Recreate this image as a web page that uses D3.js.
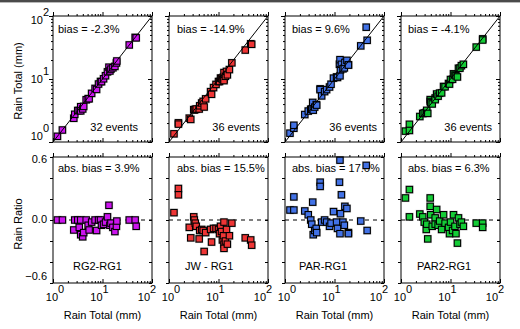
<!DOCTYPE html>
<html>
<head>
<meta charset="utf-8">
<script src="https://cdn.jsdelivr.net/npm/d3@7"></script>
<style>
  body { margin: 0; background: #fff; }
  svg text { font-family: "Liberation Sans", Arial, sans-serif; fill: #000; }
</style>
</head>
<body>
<div id="chart"></div>
<script>
// reference gauge (RG1) event totals in mm, and ratio of each gauge to RG1 minus one
const rg2Ref = [1.23,1.55,2.63,2.75,3.16,3.39,3.63,3.63,3.98,4.17,4.68,5.13,5.37,6.03,7.08,7.59,8.32,9.12,9.55,10.5,11.5,12.6,13.5,14.1,14.8,16.2,17.8,19.1,19.5,34.7,45.7,47.9];
const rg2Ratio = [0,0,-0.095,0,0,-0.07,0,-0.14,-0.16,-0.12,0,-0.05,-0.095,-0.02,0,-0.10,0,0,-0.05,-0.04,-0.02,0.03,0.14,-0.05,-0.03,-0.07,-0.11,-0.06,-0.01,0,0,-0.06];

const jwRef = [1.26,1.55,1.55,2.57,2.75,3.16,3.24,3.39,3.55,4.07,4.17,4.57,4.90,5.13,5.50,6.92,7.24,7.94,8.91,10.0,10.5,11.0,11.5,12.0,12.6,12.9,12.9,12.9,13.8,14.5,15.1,16.6,18.6,34.7,44.7,46.8];
const jwRatio = [0.07,0.30,0.24,-0.07,-0.17,0.03,0.00,-0.03,-0.06,-0.18,-0.10,-0.09,-0.10,-0.30,-0.12,-0.09,-0.21,-0.08,-0.08,-0.09,-0.13,-0.06,-0.11,-0.19,-0.15,-0.23,-0.27,-0.02,-0.20,-0.09,-0.23,-0.15,-0.03,-0.17,-0.19,-0.24];

const parRef = [1.26,1.51,1.51,2.51,2.95,3.31,3.47,3.63,3.72,3.98,4.27,4.37,5.13,5.13,5.50,6.31,6.92,7.94,8.51,9.55,11.0,11.5,12.6,12.9,12.9,13.2,13.8,14.8,15.8,16.2,17.8,19.1,19.1,33.9,43.7,45.7];
const parRatio = [0.095,0.095,0.22,0.086,0.05,0.0,-0.04,0.17,-0.14,-0.10,-0.08,-0.12,0.36,0.32,-0.02,0.0,-0.02,-0.06,-0.03,0.08,-0.02,-0.08,0.36,0.57,-0.13,0.06,0.24,-0.02,-0.05,0.13,0.11,-0.12,-0.13,-0.01,0.52,-0.10];

const par2Ref = [1.23,1.48,1.48,2.40,2.75,2.95,3.24,3.31,3.47,3.89,3.89,3.98,4.27,4.90,4.90,5.25,5.62,6.03,6.61,7.24,7.76,9.12,9.55,10.0,11.0,11.5,12.3,12.9,13.8,14.5,15.5,16.6,18.2,33.1,44.7,44.7];
const par2Ratio = [0.21,0.29,0.03,0.057,0.03,-0.02,-0.09,-0.04,-0.18,0.21,0.13,0.05,-0.06,0.02,-0.04,0.10,-0.05,-0.01,-0.09,0.05,-0.03,-0.07,-0.13,-0.02,-0.10,0.05,-0.06,-0.13,-0.22,0.02,-0.04,-0.02,-0.06,-0.03,-0.03,-0.07];

const pairLabels = ["RG2-RG1", "JW - RG1", "PAR-RG1", "PAR2-RG1"];
const biasLabels = ["bias = -2.3%", "bias = -14.9%", "bias = 9.6%", "bias = -4.1%"];
const absBiasLabels = ["abs. bias = 3.9%", "abs. bias = 15.5%", "abs. bias = 17.6%", "abs. bias = 6.3%"];
const eventLabels = ["32 events", "36 events", "36 events", "36 events"];
const colors = ["#cc14ee", "#ee3535", "#4272e6", "#14cc36"];

const refSets = [rg2Ref, jwRef, parRef, par2Ref];
const ratioSets = [rg2Ratio, jwRatio, parRatio, par2Ratio];

const logTicks = [1, 10, 100];
const ratioTicks = [-0.6, -0.4, -0.2, 0, 0.2, 0.4, 0.6];
const ratioLabels = [-0.6, 0, 0.6];

// layout
const W = 520, H = 329;
const panelLeft = [53, 169, 285, 401];
const pw = 99, ph = 126;
const topY = 16, botY = 157;
// per panel text offsets (from the left edge)
const eventRight = [85, 91, 92, 91];
const pairX = [20, 16, 14, 16];
const biasX = [5, 8, 7, 7];

const svg = d3.select("#chart").append("svg").attr("width", W).attr("height", H);

// window-like frame at the very top
svg.append("rect").attr("x", 0).attr("y", 0).attr("width", W).attr("height", 2).attr("fill", "#4a4a4a");
svg.append("rect").attr("x", 0).attr("y", 2).attr("width", W).attr("height", 1).attr("fill", "#b8b8b8");

/**
 * draws a set of inward ticks along one side of a panel
 */
function inTicks(g, axisFn, scale, values, size, transform) {
    g.append("g")
        .attr("transform", transform)
        .call(axisFn(scale).tickValues(values).tickSizeInner(-size).tickSizeOuter(0).tickFormat(""))
        .call(a => a.select(".domain").remove())
        .selectAll("line").attr("stroke", "#000").attr("stroke-width", 1);
}

const minorLog = d3.scaleLog().domain([1, 100]).ticks().filter(v => logTicks.indexOf(v) < 0);

/**
 * draws the square markers with their soft grey halo
 */
function squares(g, pts, x, y, color) {
    g.selectAll(".halo").data(pts).enter().append("rect").attr("class", "halo")
        .attr("x", d => x(d[0]) - 4.2).attr("y", d => y(d[1]) - 4.2)
        .attr("width", 8.4).attr("height", 8.4).attr("fill", "#999").attr("opacity", 0.45);
    g.selectAll(".sq").data(pts).enter().append("rect").attr("class", "sq")
        .attr("x", d => x(d[0]) - 3.2).attr("y", d => y(d[1]) - 3.2)
        .attr("width", 6.4).attr("height", 6.4).attr("fill", color)
        .attr("stroke", "#000").attr("stroke-width", 1.1);
}

/**
 * writes 10^n tick labels
 */
function powerLabel(g, x, y, exp, anchor) {
    let t = g.append("text").attr("x", x).attr("y", y).attr("text-anchor", anchor).attr("font-size", 11);
    t.append("tspan").text("10");
    t.append("tspan").attr("dy", -8).attr("font-size", 11).text(exp);
}

for (let p = 0; p < 4; p++) {
    let L = panelLeft[p];
    let color = colors[p];
    let ref = refSets[p];
    let ratio = ratioSets[p];

    ////////////////////////////////////////////////////////////////
    // top panel: gauge total vs reference total
    let x = d3.scaleLog().domain([1, 100]).range([L, L + pw]);
    let y = d3.scaleLog().domain([1, 100]).range([topY + ph, topY]);
    let gt = svg.append("g");

    gt.append("text").attr("x", L + biasX[p]).attr("y", 33).attr("font-size", 11).text(biasLabels[p]);
    gt.append("text").attr("x", L + eventRight[p]).attr("y", 131).attr("font-size", 11)
        .attr("text-anchor", "end").text(eventLabels[p]);

    let topPts = ref.map((r, i) => [r, r * (1 + ratio[i])]);
    squares(gt.append("g"), topPts, x, y, color);

    gt.append("line").attr("x1", x(1)).attr("y1", y(1)).attr("x2", x(100)).attr("y2", y(100))
        .attr("stroke", "#000").attr("stroke-width", 1);

    inTicks(gt, d3.axisBottom, x, logTicks, 4, `translate(0,${topY + ph})`);
    inTicks(gt, d3.axisTop, x, logTicks, -4, `translate(0,${topY})`);
    inTicks(gt, d3.axisBottom, x, minorLog, 2, `translate(0,${topY + ph})`);
    inTicks(gt, d3.axisTop, x, minorLog, -2, `translate(0,${topY})`);
    inTicks(gt, d3.axisLeft, y, logTicks, -4, `translate(${L},0)`);
    inTicks(gt, d3.axisRight, y, logTicks, 4, `translate(${L + pw},0)`);
    inTicks(gt, d3.axisLeft, y, minorLog, -2, `translate(${L},0)`);
    inTicks(gt, d3.axisRight, y, minorLog, 2, `translate(${L + pw},0)`);

    gt.append("rect").attr("x", L).attr("y", topY).attr("width", pw).attr("height", ph)
        .attr("fill", "none").attr("stroke", "#000").attr("stroke-width", 1);

    if (p === 0) {
        let shift = [-2, 4, 8];
        logTicks.forEach((v, i) => powerLabel(gt, 49, y(v) + shift[i], String(i), "end"));
    }

    ////////////////////////////////////////////////////////////////
    // bottom panel: ratio vs reference total
    let yr = d3.scaleLinear().domain([-0.6, 0.6]).range([botY + ph, botY]);
    let gb = svg.append("g");

    gb.append("text").attr("x", L + biasX[p]).attr("y", 172).attr("font-size", 11).text(absBiasLabels[p]);
    gb.append("text").attr("x", L + pairX[p]).attr("y", 270).attr("font-size", 11).text(pairLabels[p]);

    gb.append("line").attr("x1", L).attr("x2", L + pw).attr("y1", yr(0)).attr("y2", yr(0))
        .attr("stroke", "#000").attr("stroke-dasharray", "4,4");

    let botPts = ref.map((r, i) => [r, ratio[i]]);
    squares(gb.append("g"), botPts, x, yr, color);

    inTicks(gb, d3.axisBottom, x, logTicks, 4, `translate(0,${botY + ph})`);
    inTicks(gb, d3.axisTop, x, logTicks, -4, `translate(0,${botY})`);
    inTicks(gb, d3.axisBottom, x, minorLog, 2, `translate(0,${botY + ph})`);
    inTicks(gb, d3.axisTop, x, minorLog, -2, `translate(0,${botY})`);
    inTicks(gb, d3.axisLeft, yr, ratioTicks, -3, `translate(${L},0)`);
    inTicks(gb, d3.axisRight, yr, ratioTicks, 3, `translate(${L + pw},0)`);

    gb.append("rect").attr("x", L).attr("y", botY).attr("width", pw).attr("height", ph)
        .attr("fill", "none").attr("stroke", "#000").attr("stroke-width", 1);

    let xShift = [2, -3, -5];
    logTicks.forEach((v, i) => powerLabel(gb, x(v) + xShift[i], 301, String(i), "middle"));

    if (p === 0) {
        let shift = [-3, 3, 6];
        ratioLabels.forEach((v, i) => {
            gb.append("text").attr("x", 47).attr("y", yr(v) + shift[i]).attr("font-size", 11)
                .attr("text-anchor", "end").text(d3.format(".1f")(v));
        });
    }

    svg.append("text").attr("x", L + pw / 2).attr("y", 319).attr("font-size", 11)
        .attr("text-anchor", "middle").text("Rain Total (mm)");
}

// y axis titles
svg.append("text").attr("transform", "translate(22,81) rotate(-90)").attr("font-size", 11)
    .attr("text-anchor", "middle").text("Rain Total (mm)");
svg.append("text").attr("transform", "translate(22,224) rotate(-90)").attr("font-size", 11)
    .attr("text-anchor", "middle").text("Rain Ratio");
</script>
</body>
</html>
